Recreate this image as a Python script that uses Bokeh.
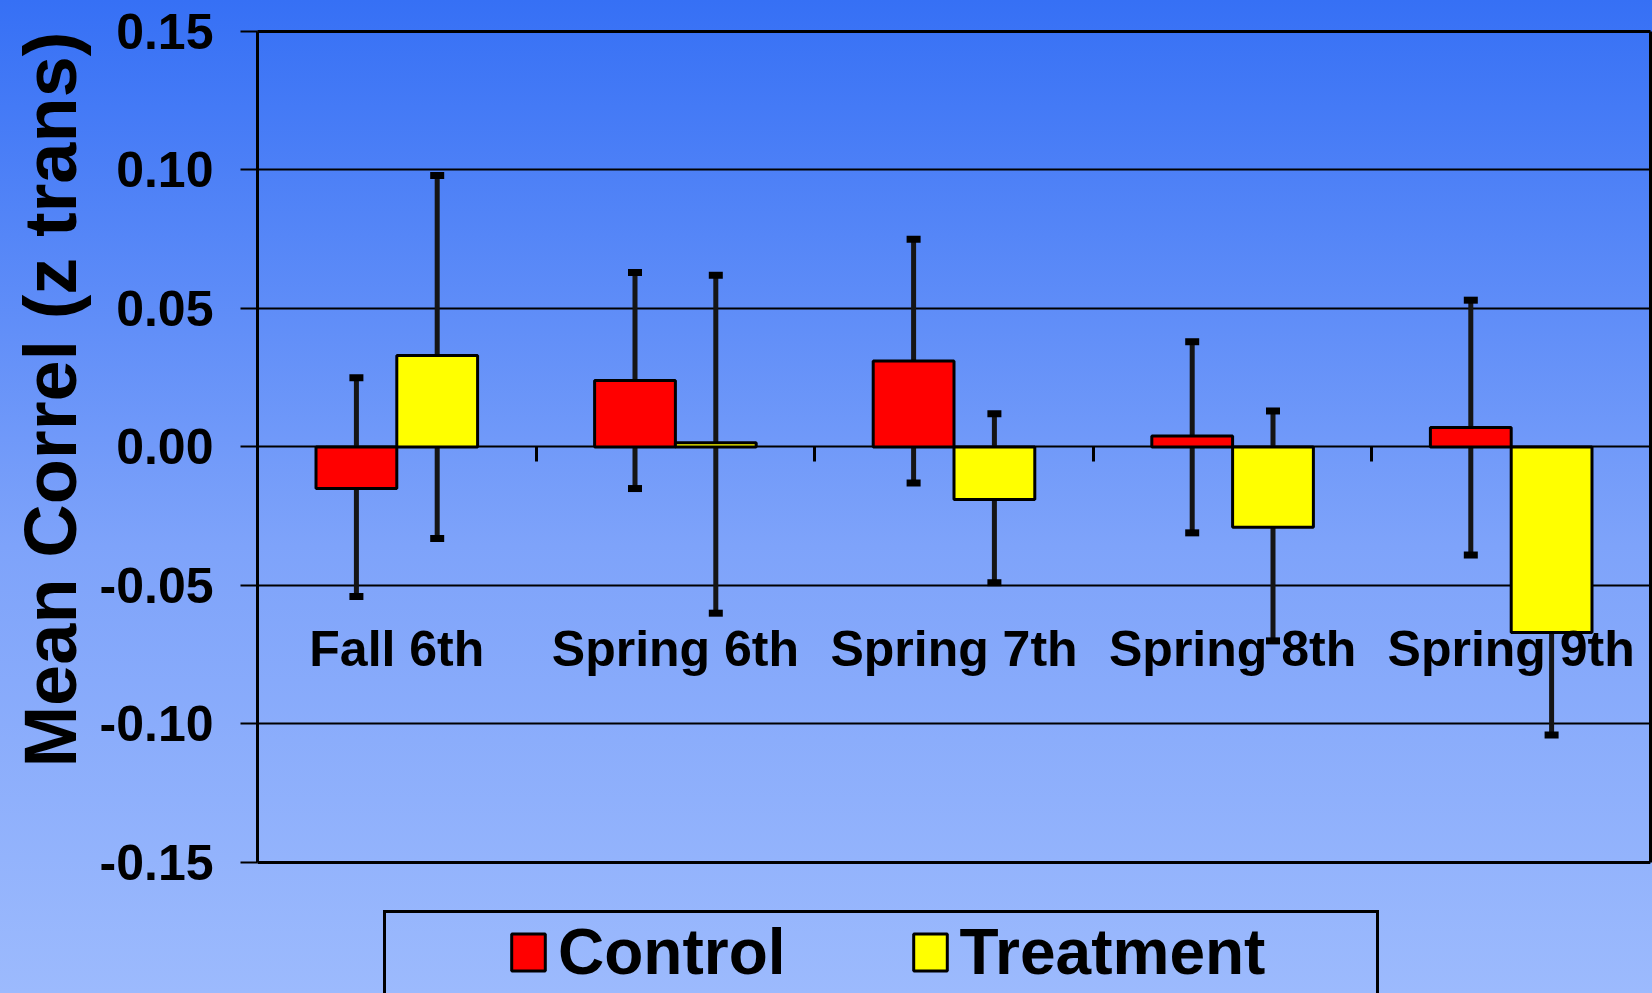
from bokeh.plotting import figure
from bokeh.models import (Range1d, LinearAxis, FixedTicker,
                          NumeralTickFormatter, ColumnDataSource, Whisker, TeeHead, Legend,
                          LegendItem, Title, GlobalInlineStyleSheet)
from bokeh.embed import file_html
from bokeh.resources import INLINE

# ---------------- data ----------------
categories = ["Fall 6th", "Spring 6th", "Spring 7th", "Spring 8th", "Spring 9th"]
series_names = ["Control", "Treatment"]
control_mean = [-0.015, 0.024, 0.031, 0.004, 0.007]
control_lower = [-0.054, -0.015, -0.013, -0.031, -0.039]
control_upper = [0.025, 0.063, 0.075, 0.038, 0.053]
treatment_mean = [0.033, 0.0015, -0.019, -0.029, -0.067]
treatment_lower = [-0.033, -0.060, -0.049, -0.070, -0.104]
treatment_upper = [0.098, 0.062, 0.012, 0.013, -0.031]
y_ticks = [-0.15, -0.10, -0.05, 0.00, 0.05, 0.10, 0.15]
y_title = "Mean Correl (z trans)"

FONT = "Liberation Sans"
BAR_W = 0.29
OFF = 0.145
BOTTOM_PAD = 0.0473   # room below the value axis for the legend

n = len(categories)
centers = [i + 0.5 for i in range(n)]
boundaries = [i for i in range(1, n)]
y_lo, y_hi = y_ticks[0], y_ticks[-1]

p = figure(width=1652, height=993,
           x_range=Range1d(0, n),
           y_range=Range1d(y_lo - BOTTOM_PAD, y_hi),
           output_backend="svg", toolbar_location=None, x_axis_location=None,
           min_border_left=257, min_border_right=2, min_border_top=31, min_border_bottom=0,
           border_fill_color=None, background_fill_color=None, outline_line_color=None)

p.stylesheets = [GlobalInlineStyleSheet(css="html, body {margin:0 !important; padding:0; overflow:hidden;}")]
p.styles = {"background": "linear-gradient(to bottom, #3670f5 0%, #7ea3fa 55%, #9cbafd 100%)"}

# grid
p.xgrid.grid_line_color = None
p.ygrid.ticker = FixedTicker(ticks=y_ticks)
p.ygrid.grid_line_color = "black"
p.ygrid.grid_line_width = 2

# y axis
ya = p.yaxis[0]
ya.bounds = (y_lo, y_hi)
ya.ticker = FixedTicker(ticks=y_ticks)
ya.formatter = NumeralTickFormatter(format="0.00")
ya.major_label_text_font = FONT
ya.major_label_text_font_style = "bold"
ya.major_label_text_font_size = "50px"
ya.major_label_text_color = "black"
ya.major_label_standoff = 27
ya.major_tick_out = 17
ya.major_tick_in = 0
ya.major_tick_line_width = 2
ya.major_tick_line_color = "black"
ya.minor_tick_line_color = None
ya.axis_line_width = 3
ya.axis_line_color = "black"

p.add_layout(Title(text=y_title, align="right", offset=0, text_font=FONT,
                   text_font_style="bold", text_font_size="74px", text_color="black"), "left")

# plot-area frame (right, top, bottom edges)
def frame_axis(**kw):
    return LinearAxis(ticker=FixedTicker(ticks=[]), major_label_text_font_size="0px",
                      major_tick_line_color=None, minor_tick_line_color=None,
                      axis_line_width=3, axis_line_color="black", **kw)

p.add_layout(frame_axis(bounds=(y_lo, y_hi)), "right")
p.add_layout(frame_axis(), "above")
p.add_layout(frame_axis(fixed_location=y_lo), "below")

# category labels at the zero line
xa = LinearAxis(fixed_location=0, ticker=FixedTicker(ticks=centers),
                major_label_overrides={c: name for c, name in zip(centers, categories)},
                major_tick_line_color=None, axis_line_color=None,
                minor_tick_line_color=None, major_label_standoff=168,
                major_label_text_font=FONT, major_label_text_font_style="bold",
                major_label_text_font_size="50px", major_label_text_color="black")
p.add_layout(xa, "below")

# boundary tick marks between groups
xb = LinearAxis(fixed_location=0, ticker=FixedTicker(ticks=boundaries),
                major_tick_out=15, major_tick_in=0, major_tick_line_width=3,
                major_tick_line_color="black", axis_line_color=None,
                minor_tick_line_color=None, major_label_text_font_size="0px",
                major_label_text_color=None)
p.add_layout(xb, "below")

# bars
src_c = ColumnDataSource(dict(x=[c - OFF for c in centers], mean=control_mean,
                              lower=control_lower, upper=control_upper))
src_t = ColumnDataSource(dict(x=[c + OFF for c in centers], mean=treatment_mean,
                              lower=treatment_lower, upper=treatment_upper))

r_c = p.vbar(x="x", top="mean", bottom=0, width=BAR_W,
             source=src_c, fill_color="#ff0000", line_color="black", line_width=3)
r_t = p.vbar(x="x", top="mean", bottom=0, width=BAR_W,
             source=src_t, fill_color="#ffff00", line_color="black", line_width=3)

for src in (src_c, src_t):
    w = Whisker(source=src, base="x", upper="upper", lower="lower",
                line_color="#151515", line_width=5,
                upper_head=TeeHead(size=14, line_width=7, line_color="black"),
                lower_head=TeeHead(size=14, line_width=7, line_color="black"))
    p.add_layout(w)

# legend box (border only)
dummy = p.scatter(x=[], y=[], alpha=0)
box = Legend(items=[LegendItem(label="", renderers=[dummy])], location=(126, -43),
             orientation="horizontal", padding=0, margin=0, spacing=0,
             glyph_width=990, glyph_height=120, label_standoff=0, label_width=0,
             border_line_color="black", border_line_alpha=1.0, border_line_width=3,
             background_fill_alpha=0)
p.add_layout(box)

# legend items
leg = Legend(items=[LegendItem(label=series_names[0], renderers=[r_c]),
                    LegendItem(label=series_names[1], renderers=[r_t])],
             location=(250, 4), orientation="horizontal", padding=0, margin=0,
             spacing=123, glyph_width=42, glyph_height=46, label_standoff=9,
             label_text_font=FONT, label_text_font_style="bold", label_text_font_size="64px",
             label_text_color="black", border_line_color=None, background_fill_alpha=0)
p.add_layout(leg)

open("out.html", "w").write(file_html(p, INLINE))
